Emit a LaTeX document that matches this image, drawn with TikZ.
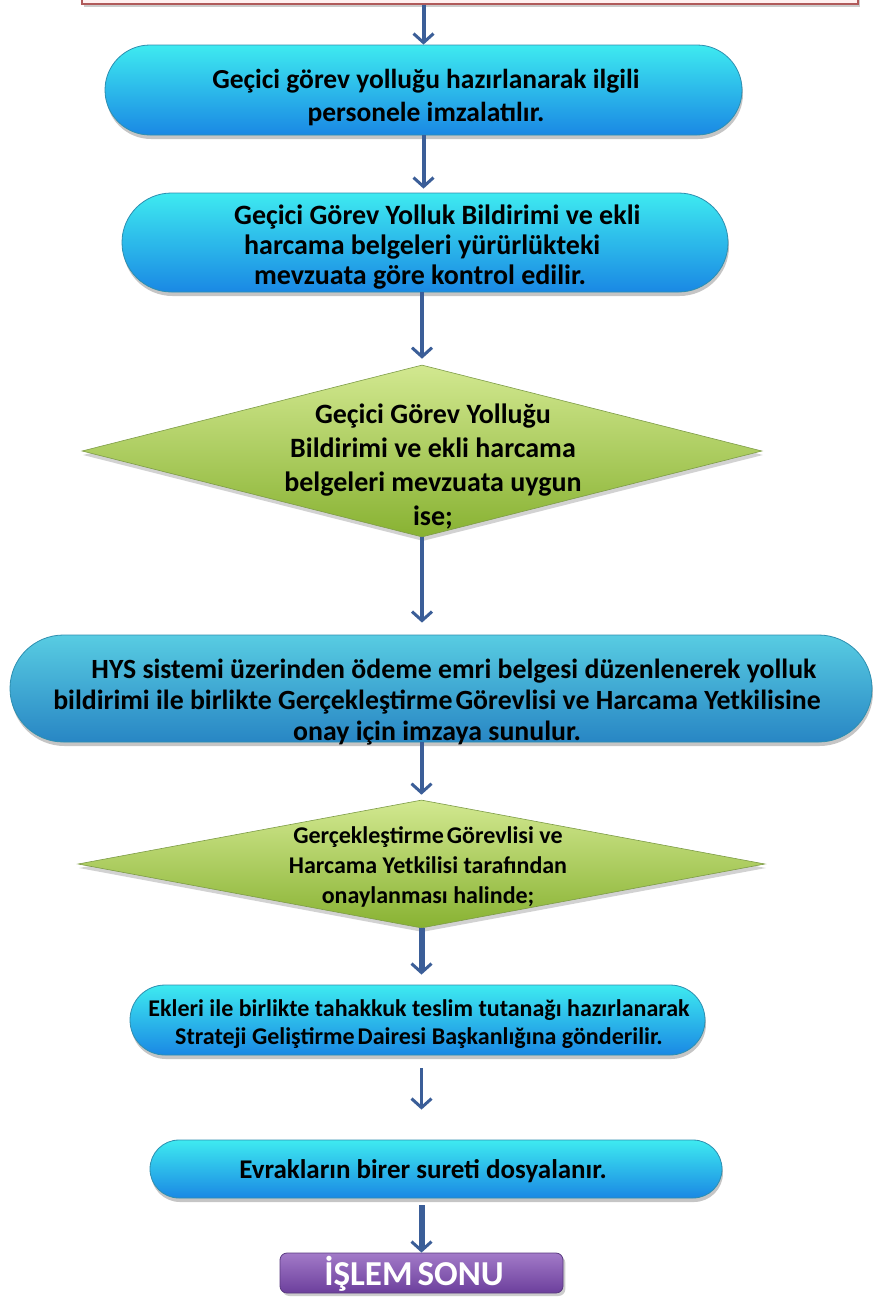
\documentclass[tikz,border=0pt]{standalone}
\usepackage{fontspec}
\setmainfont{Carlito}
\usetikzlibrary{shapes.geometric,shapes.misc,shadows,arrows.meta}
\definecolor{proctop}{HTML}{3EEAF0}
\definecolor{procbot}{HTML}{1A88E4}
\definecolor{procline}{HTML}{2E8FB0}
\definecolor{wprocTop}{HTML}{58CCE2}
\definecolor{wprocBot}{HTML}{2886C4}
\definecolor{dectop}{HTML}{D2E890}
\definecolor{decbot}{HTML}{88B232}
\definecolor{decline}{HTML}{7E9C48}
\definecolor{arrcol}{HTML}{3B5E98}
\definecolor{endtop}{HTML}{A27AC8}
\definecolor{endbot}{HTML}{6C3F9C}
\definecolor{endline}{HTML}{5A3A80}
\definecolor{topline}{HTML}{B05A5A}
\begin{document}
\begin{tikzpicture}[x=1pt,y=-1pt,
  procbox/.style={rounded rectangle, draw=procline, line width=0.8pt,
    top color=proctop, bottom color=procbot, inner sep=0pt,
    drop shadow={opacity=0.45, shadow xshift=1pt, shadow yshift=-4pt}},
  decbox/.style={diamond, draw=decline, line width=0.6pt, inner sep=0pt,
    top color=dectop, bottom color=decbot,
    drop shadow={opacity=0.35, shadow xshift=1pt, shadow yshift=-4pt}},
  txt/.style={align=center, inner sep=0pt, text=black},
  arr/.style={draw=arrcol, line width=4pt,
    -{Straight Barb[length=9pt,width=20pt,line width=3pt]}},
  arrthick/.style={arr, line width=6pt},
]
\useasboundingbox (0,0) rectangle (874,1304);
\clip (0,0) rectangle (874,1304);
\fill[white] (0,0) rectangle (874,1304);

% top box (cut off)
\node[rectangle, draw=topline, line width=1.2pt, fill=white!94!red,
  minimum width=776pt, minimum height=80pt, inner sep=0pt,
  drop shadow={opacity=0.4, shadow yshift=-3pt}] (top) at (470,-36) {};

% boxes
\node[procbox, minimum width=637pt, minimum height=90pt] (b1) at (423.5,90) {};
\node[txt, font=\fontsize{27.5}{33}\selectfont\bfseries] (t1) at (426,98)
  {Geçici görev yolluğu hazırlanarak ilgili\\personele imzalatılır.};

\node[procbox, minimum width=606pt, minimum height=99pt] (b2) at (425,242.5) {};
\node[txt, align=left, font=\fontsize{28}{30}\selectfont\bfseries, anchor=west] (t2) at (234,247)
  {Geçici Görev Yolluk Bildirimi ve ekli\\
   \hspace*{10pt}harcama belgeleri yürürlükteki\\
   \hspace*{20pt}mevzuata göre kontrol edilir.};

\node[decbox, minimum width=680pt, minimum height=172pt] (d1) at (422,451) {};
\node[txt, font=\fontsize{28}{34}\selectfont\bfseries] (t3) at (433,467)
  {Geçici Görev Yolluğu\\Bildirimi ve ekli harcama\\belgeleri mevzuata uygun\\ise;};

\node[procbox, top color=wprocTop, bottom color=wprocBot,
  minimum width=862pt, minimum height=107pt] (b3) at (441,688.5) {};
\node[txt, font=\fontsize{27.8}{31}\selectfont\bfseries] (t4) at (437,702)
  {\hspace*{34pt}HYS sistemi üzerinden ödeme emri belgesi düzenlenerek yolluk\\
   bildirimi ile birlikte Gerçekleştirme\hspace{3pt}Görevlisi ve Harcama Yetkilisine\\
   onay için imzaya sunulur.};

\node[decbox, minimum width=687pt, minimum height=128pt] (d2) at (421.5,864) {};
\node[txt, font=\fontsize{24}{30}\selectfont\bfseries] (t5) at (428,867)
  {Gerçekleştirme\hspace{3pt}Görevlisi ve\\Harcama Yetkilisi tarafından\\onaylanması halinde;};

\node[procbox, minimum width=575pt, minimum height=70pt] (b4) at (417.5,1020) {};
\node[txt, font=\fontsize{24}{28}\selectfont\bfseries] (t6) at (419,1024)
  {Ekleri ile birlikte tahakkuk teslim tutanağı hazırlanarak\\
   Strateji Geliştirme\hspace{3pt}Dairesi Başkanlığına gönderilir.};

\node[procbox, minimum width=572pt, minimum height=58pt] (b5) at (436,1169) {};
\node[txt, font=\fontsize{27}{30}\selectfont\bfseries] (t7) at (423,1171)
  {Evrakların birer sureti dosyalanır.};

\node[rectangle, rounded corners=7pt, draw=endline, line width=0.8pt,
  top color=endtop, bottom color=endbot, minimum width=283pt, minimum height=40pt,
  inner sep=0pt, drop shadow={opacity=0.4, shadow yshift=-3pt}] (fin) at (421.5,1273) {};
\node[txt, text=white, font=\fontsize{35}{40}\selectfont\bfseries] (t8) at (414,1274)
  {İŞLEM\hspace{5pt}SONU};

% connectors
\draw[arr] (top.south -| b1.north) -- (b1.north);
\draw[arr, shorten >=4pt] (b1.south) -- (b1.south |- b2.north);
\draw[arr, shorten >=6pt] (b2.south -| d1.north) -- (d1.north);
\draw[arr, shorten >=12pt] (d1.south) -- (d1.south |- b3.north);
\draw[arr, shorten >=5pt] (b3.south -| d2.north) -- (d2.north);
\draw[arrthick, shorten >=10pt] (d2.south) -- (d2.south |- b4.north);
\draw[arr, line width=3pt, shorten <=13pt, shorten >=30pt] (b4.south -| fin.north) -- (b5.north -| fin.north);
\draw[arrthick, shorten <=7pt, shorten >=0pt] (b5.south -| fin.north) -- (fin.north);
\end{tikzpicture}
\end{document}
